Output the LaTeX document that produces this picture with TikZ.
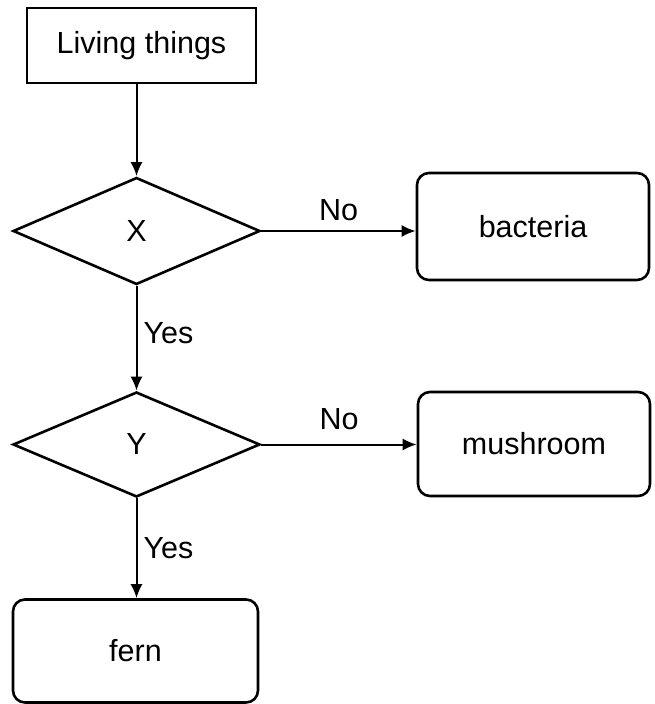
\documentclass[tikz,border=0pt]{standalone}
\usepackage{fontspec}
\setmainfont{Liberation Sans}
\usetikzlibrary{shapes.geometric,arrows.meta}
\begin{document}
\begin{tikzpicture}[x=1pt,y=-1pt,
  every node/.style={font=\fontsize{30.5}{36}\selectfont},
  arr/.style={line width=2pt,-{Latex[length=14pt,width=12pt]}},
  sqbox/.style={draw,line width=2.6pt,rectangle,inner sep=0pt},
  rbox/.style={draw,line width=2.6pt,rectangle,rounded corners=12pt,inner sep=0pt},
  dia/.style={draw,line width=2.6pt,diamond,inner sep=0pt,aspect=2.3},
  lbl/.style={inner sep=0pt}]
\useasboundingbox (0,0) rectangle (655,704);
\node[sqbox,minimum width=229pt,minimum height=75pt] (lt) at (141.5,45.5) {Living things};
\node[dia,minimum width=247pt,minimum height=107pt] (x) at (136.5,231) {X};
\node[rbox,minimum width=232pt,minimum height=107pt] (bac) at (533,226.5) {bacteria};
\node[dia,minimum width=247pt,minimum height=105pt] (y) at (136.5,444.5) {Y};
\node[rbox,minimum width=232pt,minimum height=104pt] (mush) at (534,444) {mushroom};
\node[rbox,minimum width=245pt,minimum height=103pt] (fern) at (135.5,651) {fern};
\draw[arr] (lt.south -| x.north) -- (x.north);
\draw[arr] (x.east) -- (x.east -| bac.west) node[lbl,pos=0.5,above=9pt] {No};
\draw[arr] (x.south) -- (y.north) node[lbl,pos=0.45,right=6pt] {Yes};
\draw[arr] (y.east) -- (y.east -| mush.west) node[lbl,pos=0.5,above=14pt] {No};
\draw[arr] (y.south) -- (y.south |- fern.north) node[lbl,pos=0.5,right=6pt] {Yes};
\end{tikzpicture}
\end{document}
